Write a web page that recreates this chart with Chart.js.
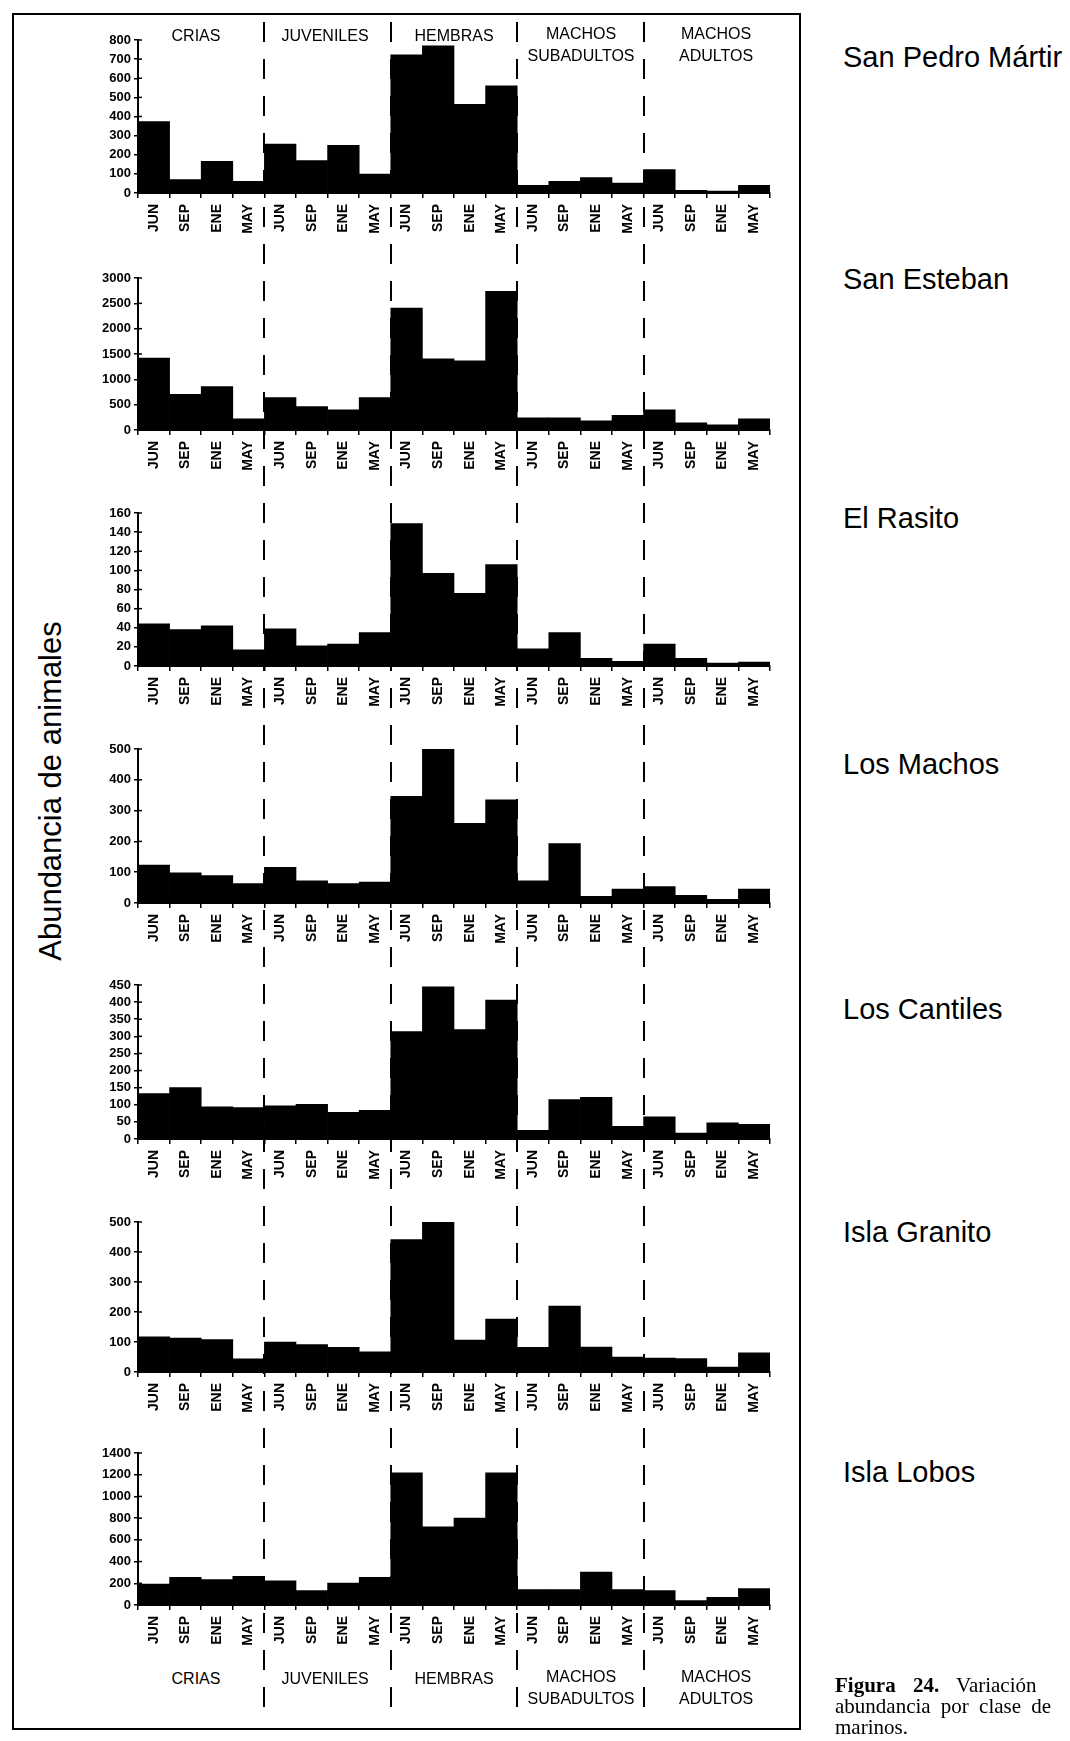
<!DOCTYPE html>
<html>
<head>
<meta charset="utf-8">
<script src="https://cdn.jsdelivr.net/npm/chart.js@4.4.0/dist/chart.umd.min.js"></script>
<style>
  body { margin: 0; background: #fff; }
  #page { position: relative; width: 1070px; height: 1741px; overflow: hidden; background: #fff;
          font-family: "Liberation Sans", Arial, Helvetica, sans-serif; color: #000; }
  .frame { position: absolute; left: 12px; top: 13px; width: 789px; height: 1717px;
           border: 2px solid #000; box-sizing: border-box; }
  .grp { position: absolute; width: 140px; margin-left: -70px; text-align: center;
         font-size: 16px; line-height: 16px; white-space: nowrap; }
  .site { position: absolute; left: 843px; font-size: 29px; line-height: 28px; white-space: nowrap; }
  .ylab { position: absolute; width: 380px; height: 32px; left: -139px; top: 775px;
          font-size: 31px; line-height: 32px; text-align: center; transform: rotate(-90deg); white-space: nowrap; }
  .cap { position: absolute; left: 835px; font-family: "Liberation Serif", "Times New Roman", serif;
         font-size: 21px; line-height: 21px; white-space: nowrap; }
  canvas { position: absolute; }
</style>
</head>
<body>
<div id="page">
  <div class="frame"></div>
  <div class="ylab">Abundancia de animales</div>
</div>
<script>
// categorias del eje x
const months = ['JUN', 'SEP', 'ENE', 'MAY'];
const groups = ['CRIAS', 'JUVENILES', 'HEMBRAS', 'MACHOS SUBADULTOS', 'MACHOS ADULTOS'];
const sites = ['San Pedro Mártir', 'San Esteban', 'El Rasito', 'Los Machos', 'Los Cantiles', 'Isla Granito', 'Isla Lobos'];

// abundancia por clase y temporada (JUN, SEP, ENE, MAY por cada clase)
const sanPedroMartir = [374, 70, 165, 61, 256, 169, 249, 99, 722, 769, 464, 560, 40, 61, 80, 52, 123, 14, 10, 40];
const sanEsteban = [1418, 705, 857, 218, 639, 461, 396, 639, 2406, 1404, 1365, 2736, 240, 240, 180, 290, 400, 140, 100, 220];
const elRasito = [44, 38, 42, 17, 39, 21, 23, 35, 149, 97, 76, 106, 18, 35, 8, 5, 23, 8, 3, 4];
const losMachos = [123, 98, 89, 63, 116, 72, 63, 68, 346, 500, 259, 335, 72, 193, 22, 45, 53, 25, 12, 45];
const losCantiles = [133, 150, 94, 92, 97, 101, 78, 84, 314, 445, 320, 406, 25, 115, 122, 37, 65, 17, 47, 43];
const islaGranito = [117, 113, 108, 44, 100, 91, 82, 67, 441, 505, 106, 176, 82, 220, 83, 50, 46, 45, 16, 64];
const islaLobos = [193, 254, 233, 264, 223, 132, 203, 254, 1217, 720, 801, 1217, 142, 142, 304, 142, 132, 41, 71, 152];

// marcas del eje y
const ticksSanPedroMartir = [0, 100, 200, 300, 400, 500, 600, 700, 800];
const ticksSanEsteban = [0, 500, 1000, 1500, 2000, 2500, 3000];
const ticksElRasito = [0, 20, 40, 60, 80, 100, 120, 140, 160];
const ticksLosMachos = [0, 100, 200, 300, 400, 500];
const ticksLosCantiles = [0, 50, 100, 150, 200, 250, 300, 350, 400, 450];
const ticksIslaGranito = [0, 100, 200, 300, 400, 500];
const ticksIslaLobos = [0, 200, 400, 600, 800, 1000, 1200, 1400];

const categories = [];
groups.forEach(function(g) { months.forEach(function(m) { categories.push(m); }); });

const panelValues = [sanPedroMartir, sanEsteban, elRasito, losMachos, losCantiles, islaGranito, islaLobos];
const panelTicks = [ticksSanPedroMartir, ticksSanEsteban, ticksElRasito, ticksLosMachos, ticksLosCantiles, ticksIslaGranito, ticksIslaLobos];

// posicion de cada panel en la pagina (tope del eje y, linea del cero)
const panelTop = [40, 278, 513, 749, 985, 1222, 1453];
const panelZero = [193, 430, 666, 903, 1139, 1372, 1605];
const siteY = [57, 279, 518, 764, 1009, 1232, 1472];
const groupX = [196, 325, 454, 581, 716];

const page = document.getElementById('page');
const fontFam = '"Liberation Sans", Arial, Helvetica, sans-serif';
const chartLeft = 11, chartW = 789, padTop = 12, axisH = 46;

function addDiv(cls, text, x, y) {
  var d = document.createElement('div');
  d.className = cls;
  d.textContent = text;
  if (x !== null) d.style.left = x + 'px';
  d.style.top = y + 'px';
  page.appendChild(d);
  return d;
}

// marcas del eje y que cruzan hacia dentro, como en el original
const innerTicks = {
  id: 'innerTicks',
  afterDraw: function(chart) {
    var ys = chart.scales.y, c = chart.ctx;
    c.save();
    c.strokeStyle = '#000';
    c.lineWidth = 1.5;
    ys.ticks.forEach(function(t) {
      var y = ys.getPixelForValue(t.value);
      c.beginPath();
      c.moveTo(ys.right, y);
      c.lineTo(ys.right + 4, y);
      c.stroke();
    });
    c.restore();
  }
};

function makePanel(i) {
  var ticks = panelTicks[i];
  var h = padTop + (panelZero[i] - panelTop[i]) + axisH;
  var cv = document.createElement('canvas');
  cv.width = chartW; cv.height = h;
  cv.style.left = chartLeft + 'px';
  cv.style.top = (panelTop[i] - padTop) + 'px';
  cv.style.width = chartW + 'px';
  cv.style.height = h + 'px';
  page.appendChild(cv);

  return new Chart(cv, {
    type: 'bar',
    data: {
      labels: categories,
      datasets: [{
        data: panelValues[i],
        backgroundColor: '#000',
        borderWidth: 0,
        categoryPercentage: 1,
        barPercentage: 1
      }]
    },
    options: {
      responsive: false,
      animation: false,
      devicePixelRatio: 1,
      layout: { padding: { top: padTop, right: 30, left: 0, bottom: 0 } },
      plugins: { legend: { display: false }, tooltip: { enabled: false } },
      scales: {
        x: {
          offset: true,
          grid: { drawOnChartArea: false, drawTicks: true, tickLength: 5, color: '#000', lineWidth: 1.5, offset: true },
          border: { color: '#000', width: 2 },
          ticks: {
            color: '#000',
            font: { family: fontFam, size: 14, weight: 'bold' },
            minRotation: 90, maxRotation: 90, autoSkip: false, padding: 6
          },
          afterFit: function(s) { s.height = axisH; }
        },
        y: {
          min: 0,
          max: ticks[ticks.length - 1],
          afterBuildTicks: function(s) { s.ticks = ticks.map(function(v) { return { value: v }; }); },
          grid: { drawOnChartArea: false, drawTicks: true, tickLength: 4, color: '#000', lineWidth: 1.5 },
          border: { color: '#000', width: 2 },
          ticks: {
            color: '#000',
            font: { family: fontFam, size: 13, weight: 'bold' },
            padding: 3,
            autoSkip: false,
            callback: function(v) { return String(v); }
          },
          afterFit: function(s) { s.width = 127; }
        }
      }
    },
    plugins: [innerTicks]
  });
}

var charts = [];
for (var i = 0; i < panelValues.length; i++) {
  charts.push(makePanel(i));
  addDiv('site', sites[i], null, siteY[i] - 14);
}

// etiquetas de clase arriba y abajo
function addGroupLabels(ySingle, yFirst, ySecond) {
  groups.forEach(function(g, k) {
    var parts = g.split(' ');
    if (parts.length === 1) {
      addDiv('grp', g, groupX[k], ySingle - 8);
    } else {
      addDiv('grp', parts[0], groupX[k], yFirst - 8);
      addDiv('grp', parts[1], groupX[k], ySecond - 8);
    }
  });
}
addGroupLabels(36, 34, 56);
addGroupLabels(1679, 1677, 1699);

// lineas punteadas entre clases, tomadas de la escala x
var ov = document.createElement('canvas');
ov.width = 1070; ov.height = 1741;
ov.style.left = '0px'; ov.style.top = '0px';
page.appendChild(ov);
var ctx = ov.getContext('2d');
var sx = charts[0].scales.x;
ctx.strokeStyle = '#000';
ctx.lineWidth = 2;
ctx.setLineDash([20, 17]);
for (var k = months.length; k < categories.length; k += months.length) {
  var x = Math.round(chartLeft + (sx.getPixelForValue(k - 1) + sx.getPixelForValue(k)) / 2);
  ctx.beginPath();
  ctx.moveTo(x, 22);
  ctx.lineTo(x, 1716);
  ctx.stroke();
}

// pie de figura (recortado en el borde)
var c1 = addDiv('cap', '', null, 1675);
c1.innerHTML = '<b>Figura 24.</b> Variación';
c1.style.wordSpacing = '12px';
var c2 = addDiv('cap', 'abundancia por clase de', null, 1696);
c2.style.wordSpacing = '5px';
addDiv('cap', 'marinos.', null, 1717);
</script>
</body>
</html>
